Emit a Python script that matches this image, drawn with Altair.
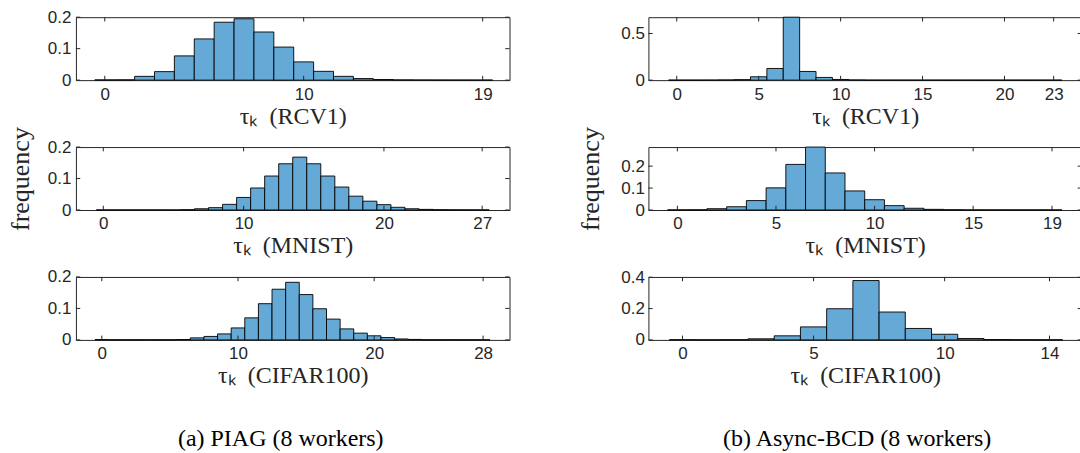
import altair as alt
import pandas as pd

# ---------------- data (frequency of delay tau_k = 0,1,2,...) ----------------
piag_rcv1 = [0.0008, 0.001, 0.012, 0.027, 0.077, 0.131, 0.184, 0.195, 0.153, 0.105,
             0.058, 0.028, 0.012, 0.005, 0.002, 0.0008, 0.0005, 0.0004, 0.0003, 0.0003]
piag_mnist = [0.0003, 0.0003, 0.0003, 0.0003, 0.0003, 0.0003, 0.001, 0.004, 0.0075, 0.018,
              0.040, 0.070, 0.108, 0.147, 0.168, 0.147, 0.108, 0.073, 0.044, 0.028,
              0.017, 0.0086, 0.004, 0.002, 0.001, 0.0006, 0.0004, 0.0003]
piag_cifar = [0.001, 0.0003, 0.0003, 0.0003, 0.0003, 0.0003, 0.0012, 0.0065, 0.011, 0.019,
              0.038, 0.070, 0.115, 0.161, 0.183, 0.144, 0.099, 0.066, 0.035, 0.0215,
              0.013, 0.0075, 0.003, 0.0015, 0.0004, 0.0004, 0.0004, 0.0004, 0.0004]
bcd_rcv1 = [0.0003, 0.0003, 0.0005, 0.002, 0.005, 0.036, 0.125, 0.6745, 0.093, 0.029,
            0.007, 0.002, 0.0004, 0.0004, 0.0004, 0.0004, 0.0004, 0.0004, 0.0004, 0.0004,
            0.0004, 0.0004, 0.0004, 0.0004]
bcd_mnist = [0.0005, 0.001, 0.006, 0.015, 0.043, 0.101, 0.208, 0.287, 0.169, 0.087,
             0.047, 0.020, 0.008, 0.003, 0.0012, 0.0005, 0.0005, 0.0005, 0.0005, 0.0005]
bcd_cifar = [0.001, 0.0003, 0.001, 0.007, 0.026, 0.083, 0.199, 0.379, 0.178, 0.073,
             0.036, 0.009, 0.002, 0.001, 0.0005]

xticks_piag_rcv1 = [0, 10, 19]
xticks_piag_mnist = [0, 10, 20, 27]
xticks_piag_cifar = [0, 10, 20, 28]
xticks_bcd_rcv1 = [0, 5, 10, 15, 20, 23]
xticks_bcd_mnist = [0, 5, 10, 15, 19]
xticks_bcd_cifar = [0, 5, 10, 14]

yticks_piag = [0, 0.1, 0.2]
yticks_bcd_rcv1 = [0, 0.5]
yticks_bcd_mnist = [0, 0.1, 0.2]
yticks_bcd_cifar = [0, 0.2, 0.4]

datasets = ["RCV1", "MNIST", "CIFAR100"]
captions = ["(a) PIAG (8 workers)", "(b) Async-BCD (8 workers)"]
ylabel = "frequency"

# ---------------- style ----------------
W, H = 434, 63
TL = 4.3
BAR = "#65a9d7"
AX = "#262626"
LFONT = "Liberation Sans"
TFONT = "Liberation Serif"
LSIZE = 17
TSIZE = 24


def panel(freqs, xdom, xticks, ydom, yticks, dataset, ytitle=False, caption=None,
          ytitle_pad=15, ylabel_pad=5, cap_dx=0):
    df = pd.DataFrame({"k": list(range(len(freqs))), "f": freqs})
    xs = alt.Scale(domain=xdom, nice=False, zero=False)
    ys = alt.Scale(domain=ydom, nice=False, zero=False)
    xaxis = alt.Axis(values=xticks, format="d", tickSize=0, domain=False, grid=False,
                     labelFont=LFONT, labelFontSize=LSIZE, labelColor=AX, labelPadding=6,
                     labelFlush=False, labelOverlap=False,
                     title="\u03c4\u2096\u00a0\u00a0(" + dataset + ")", titleFont=TFONT,
                     titleFontSize=TSIZE, titleFontWeight="normal", titleColor=AX,
                     titlePadding=2)
    yargs = dict(values=yticks, format="~g", tickSize=0, domain=False, grid=False,
                 labelFont=LFONT, labelFontSize=LSIZE, labelColor=AX,
                 labelPadding=ylabel_pad, labelFlush=False, labelOverlap=False)
    if ytitle:
        yaxis = alt.Axis(title=ylabel, titleFont=TFONT, titleFontSize=26,
                         titleFontWeight="normal", titleColor=AX,
                         titlePadding=ytitle_pad, **yargs)
    else:
        yaxis = alt.Axis(title=None, **yargs)

    bars = alt.Chart(df).transform_calculate(
        x0="datum.k - 0.5", x1="datum.k + 0.5"
    ).mark_rect(fill=BAR, stroke="black", strokeWidth=0.9).encode(
        x=alt.X("x0:Q", scale=xs, axis=xaxis),
        x2="x1:Q",
        y=alt.Y("f:Q", scale=ys, axis=yaxis),
        y2=alt.datum(0),
    )
    xt = alt.Chart(pd.DataFrame({"t": xticks}))
    yt = alt.Chart(pd.DataFrame({"t": yticks}))
    tb = xt.mark_rule(color=AX, strokeWidth=1).encode(
        x=alt.X("t:Q", scale=xs, axis=xaxis), y=alt.value(H), y2=alt.value(H - TL))
    tt = xt.mark_rule(color=AX, strokeWidth=1).encode(
        x=alt.X("t:Q", scale=xs, axis=xaxis), y=alt.value(0), y2=alt.value(TL))
    tl = yt.mark_rule(color=AX, strokeWidth=1).encode(
        y=alt.Y("t:Q", scale=ys, axis=yaxis), x=alt.value(0), x2=alt.value(TL))
    tr = yt.mark_rule(color=AX, strokeWidth=1).encode(
        y=alt.Y("t:Q", scale=ys, axis=yaxis), x=alt.value(W - TL), x2=alt.value(W))
    ch = alt.layer(bars, tb, tt, tl, tr).properties(width=W, height=H)
    if caption:
        ch = ch.properties(title=alt.TitleParams(
            text=caption, orient="bottom", anchor="middle", font=TFONT, fontSize=24,
            fontWeight="normal", color="black", offset=39, dx=cap_dx))
    return ch


cells = [
    panel(piag_rcv1, [-1.45, 20.35], xticks_piag_rcv1, [0, 0.2], yticks_piag, datasets[0]),
    panel(bcd_rcv1, [-1.73, 24.73], xticks_bcd_rcv1, [0, 0.6745], yticks_bcd_rcv1,
          datasets[0], ylabel_pad=4),
    panel(piag_mnist, [-1.95, 28.95], xticks_piag_mnist, [0, 0.2], yticks_piag, datasets[1],
          ytitle=True, ytitle_pad=14),
    panel(bcd_mnist, [-1.47, 20.52], xticks_bcd_mnist, [0, 0.287], yticks_bcd_mnist,
          datasets[1], ytitle=True, ytitle_pad=17, ylabel_pad=4),
    panel(piag_cifar, [-1.9, 29.94], xticks_piag_cifar, [0, 0.2], yticks_piag, datasets[2],
          caption=captions[0], cap_dx=-12),
    panel(bcd_cifar, [-1.3, 15.24], xticks_bcd_cifar, [0, 0.402], yticks_bcd_cifar,
          datasets[2], caption=captions[1], ylabel_pad=4, cap_dx=-8),
]

chart = alt.concat(*cells, columns=2, spacing={"row": 67, "column": 139},
                   bounds="flush").properties(
    align="each",
    padding={"left": 6, "top": 7, "right": -3, "bottom": 0},
    background="white",
).configure_view(stroke=AX, strokeWidth=1)

chart.save("out.html", embed_options={"renderer": "svg", "actions": False})
